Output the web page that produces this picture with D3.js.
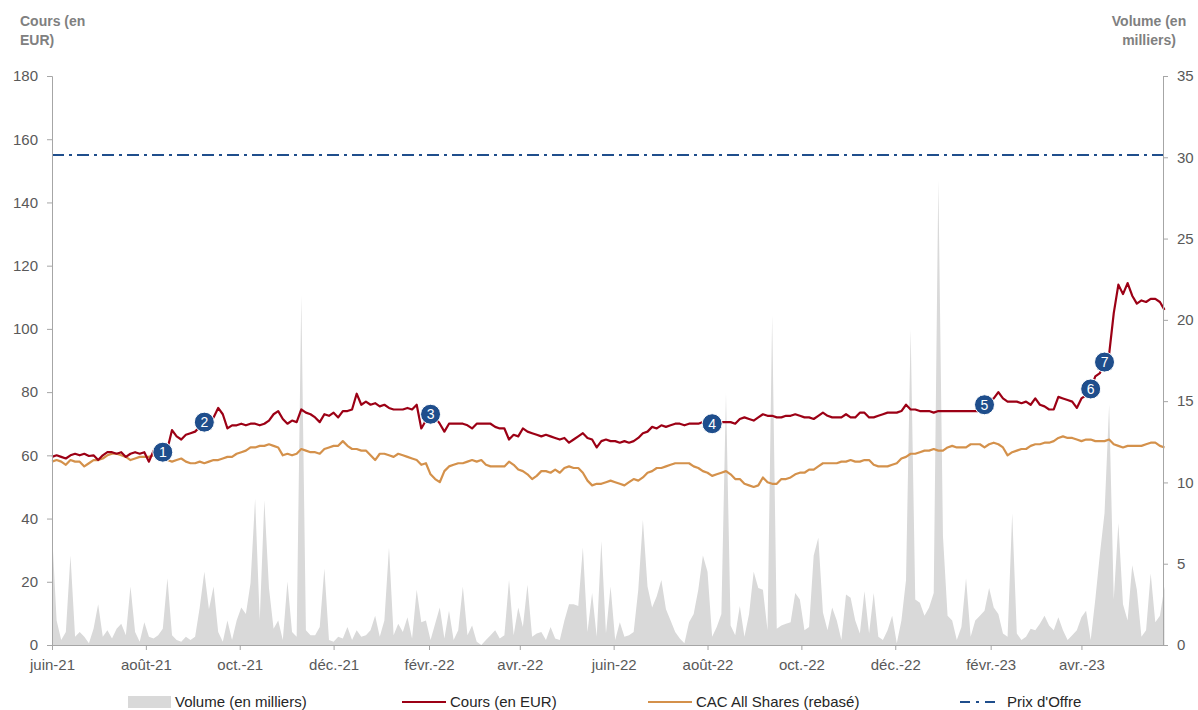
<!DOCTYPE html>
<html>
<head>
<meta charset="utf-8">
<script src="https://cdn.jsdelivr.net/npm/d3@7"></script>
<style>
    body { margin: 0; background: #fff; }
    svg { font-family: "Liberation Sans", Arial, sans-serif; }
</style>
</head>
<body>
<div id="chart"></div>
<script>
// one point every 3 calendar days from 1 June 2021
const startDate = new Date(2021, 5, 1);
const endDate = new Date(2023, 4, 24);
const stepDays = 3;

const cours = [
    59.5, 60, 59.5, 59, 60, 60.5, 60, 60.5, 59.8, 60,
    58.5, 60, 61, 61, 60.5, 61, 59.5, 60.5, 61, 60.5,
    61, 58, 61.5, 61, 61, 62, 68, 66, 65, 66.5,
    67, 67.5, 69, 70.5, 70.5, 72, 75, 73, 68.5, 69.5,
    69.5, 70, 69.5, 70, 70, 69.5, 70, 71, 73, 74,
    71.5, 70, 71, 70.5, 74.5, 73.5, 73, 72, 70.5, 73,
    72.5, 73.5, 72, 74, 74, 74.5, 79.5, 76, 77, 76,
    76.5, 75.5, 76, 75, 74.5, 74.5, 74.5, 75, 74.5, 76,
    68.5, 71, 73, 72, 70, 67.5, 70, 70, 70, 70,
    69.5, 68.5, 70, 70, 70, 70, 69, 68.5, 68.5, 65,
    66.5, 66, 68.5, 67.5, 67, 66.5, 66, 66.5, 66, 65.5,
    65, 65.5, 64, 65, 66, 67, 65.5, 65, 62.5, 64.5,
    65, 64.5, 64.5, 64, 64.5, 64, 64.5, 65.5, 67, 67.5,
    69, 68.5, 69.5, 69, 69.5, 70, 70, 69.5, 70, 70,
    70, 70.5, 70, 70, 70.5, 70.5, 70.5, 70.5, 70, 71.5,
    72, 71.5, 71, 72, 73, 72.5, 72.5, 72, 72, 72.5,
    72.5, 73, 72.5, 72, 72, 71.5, 72.5, 73.5, 72.5, 72,
    72, 72, 73, 72, 72, 73.5, 73.5, 72, 72, 72.5,
    73, 73.5, 73.5, 73.5, 74, 76, 74.5, 74.5, 74, 74,
    74, 73.5, 74, 74, 74, 74, 74, 74, 74, 74,
    74, 74, 76, 77.5, 78, 80, 78, 77, 77, 77,
    76.5, 77, 76, 78, 76, 75.5, 74.5, 74.5, 78.5, 78,
    77.5, 77, 75, 78, 79, 81, 85, 86, 89.5, 92,
    105, 114, 111, 114.5, 110.5, 108, 109, 108.5, 109.5, 109.5,
    108.5, 106
];

const cac = [
    58, 58.5, 58, 57, 58.5, 58, 58, 56.5, 57.5, 58.5,
    58.5, 59, 60, 60.5, 60.5, 60, 59.5, 58.5, 59, 59.5,
    59.5, 59.5, 60, 59.5, 59, 58.5, 58, 58.5, 59, 58,
    57.5, 57.5, 58, 57.5, 58, 58.5, 58.5, 59, 59.5, 59.5,
    60.5, 61, 61.5, 62.5, 62.5, 63, 63, 63.5, 63, 62.5,
    60, 60.5, 60, 60.5, 62, 61.5, 61, 61, 60.5, 62,
    62.5, 63, 63, 64.5, 63, 62, 62, 61.5, 61.5, 60,
    58.5, 60.5, 60.5, 60, 59.5, 60.5, 60, 59.5, 59, 58.5,
    57, 57.5, 54, 52.5, 51.5, 55, 56.5, 57, 57.5, 57.5,
    58, 58.5, 58, 58.5, 57, 56.5, 56.5, 56.5, 56.5, 58,
    57, 55.5, 55, 54, 52.5, 53.5, 55, 55, 54.5, 55.5,
    54.5, 56, 56.5, 56, 56, 54.5, 52, 50.5, 51, 51,
    51.5, 52, 51.5, 51, 50.5, 51.5, 52.5, 52, 53, 54.5,
    55, 56, 56, 56.5, 57, 57.5, 57.5, 57.5, 57.5, 56.5,
    56, 55, 54.5, 53.5, 54, 54.5, 55, 54, 52.5, 52.5,
    51, 50.5, 50, 50.5, 53, 51.5, 51, 51, 52.5, 52.5,
    53, 54, 54.5, 54.5, 55.5, 55.5, 56.5, 57.5, 57.5, 57.5,
    57.5, 58, 58, 58.5, 58, 58, 58.5, 58.5, 57, 56.5,
    56.5, 56.5, 57, 57.5, 59, 59.5, 60.5, 60.5, 61, 61.5,
    61.5, 62, 61.5, 61.5, 62.5, 63, 62.5, 62.5, 62.5, 63.5,
    63.5, 63.5, 62.5, 63.5, 64, 63.5, 62.5, 60, 61, 61.5,
    62, 62, 63, 63.5, 63.5, 64, 64, 64.5, 65.5, 66,
    65.5, 65.5, 65, 64.5, 65, 65, 64.5, 64.5, 64.5, 65,
    63.5, 63, 62.5, 63, 63, 63, 63, 63.5, 64, 64,
    63, 62.5
];

// volume en milliers
const volume = [
    7, 1.5, 0.3, 0.8, 5.5, 0.5, 0.8, 0.5, 0.1, 1,
    2.5, 0.5, 0.9, 0.4, 1, 1.3, 0.6, 3.6, 0.8, 0.2,
    1.4, 0.5, 0.4, 0.6, 1, 4.1, 0.6, 0.3, 0.2, 0.5,
    0.3, 0.5, 2.3, 4.5, 2.2, 3.6, 0.8, 0.2, 1.5, 0.3,
    1.5, 2.3, 1.9, 3.8, 9, 1.5, 8.9, 3.5, 1, 1.5,
    0.3, 3.9, 0.8, 0.5, 21.5, 0.9, 0.6, 0.6, 1.1, 4.7,
    0.3, 0.2, 0.5, 0.4, 1.1, 0.3, 0.9, 0.5, 0.6, 0.9,
    1.8, 0.5, 1.5, 6, 0.6, 1.3, 0.8, 1.7, 0.4, 3.4,
    1.4, 1.5, 0.3, 1.3, 2.3, 0.4, 2.1, 0.3, 0.9, 3.6,
    0.6, 1.2, 0.2, 0, 0.3, 0.6, 0.9, 0.4, 0.6, 4,
    0.6, 2.3, 1.1, 3.7, 0.5, 0.7, 0.8, 0.3, 1.1, 0.4,
    0.3, 1.5, 2.5, 2.5, 2.4, 6, 0.8, 3.2, 0.5, 6.4,
    0.7, 3.6, 0.3, 1.4, 0.5, 0.6, 0.8, 3.4, 7.7, 3.6,
    2.3, 3, 4, 2.2, 1.5, 0.8, 0.4, 0.1, 1.4, 1.9,
    3.4, 5.5, 4.5, 0.5, 1.1, 1.9, 15.5, 1.2, 0.6, 2.4,
    0.5, 1.9, 4.5, 3.5, 3.4, 0.9, 20.3, 1, 1.2, 1.3,
    1.4, 3.2, 2.8, 0.9, 1.1, 5.5, 6.6, 2, 0.9, 2.3,
    1.5, 0.3, 3.1, 2.9, 1.5, 0.7, 3.3, 0.7, 3.2, 0.5,
    0.3, 0.9, 1.8, 0.1, 1.5, 4, 19.4, 2.8, 2.6, 1.8,
    2.3, 3.2, 28.6, 6.7, 1.8, 1.5, 0.3, 1.1, 4.1, 0.5,
    1.5, 1.8, 2.1, 3.5, 2.3, 1.9, 0.7, 0.5, 8.1, 0.7,
    0.3, 0.5, 1, 0.9, 1.3, 1.8, 1.2, 0.9, 1.7, 0.9,
    0.3, 0.6, 0.9, 1.7, 2.1, 0.3, 2.8, 5.6, 8.1, 14.8,
    2.8, 7.5, 2.5, 1.5, 4.9, 3.4, 0.5, 0.9, 4.4, 1.4,
    1.8, 3.6
];

const prixOffre = 155;

// numbered events placed on the Cours line (index into the series)
const eventIndex = [24, 33, 82, 143, 202, 225, 228];
const eventLabels = ["1", "2", "3", "4", "5", "6", "7"];

const monthTicks = [
    new Date(2021, 5, 1), new Date(2021, 7, 1), new Date(2021, 9, 1), new Date(2021, 11, 1),
    new Date(2022, 1, 1), new Date(2022, 3, 1), new Date(2022, 5, 1), new Date(2022, 7, 1),
    new Date(2022, 9, 1), new Date(2022, 11, 1), new Date(2023, 1, 1), new Date(2023, 3, 1)
];
const monthLabels = ["juin-21", "août-21", "oct.-21", "déc.-21", "févr.-22", "avr.-22",
    "juin-22", "août-22", "oct.-22", "déc.-22", "févr.-23", "avr.-23"];

const leftTicks = [0, 20, 40, 60, 80, 100, 120, 140, 160, 180];
const rightTicks = [0, 5, 10, 15, 20, 25, 30, 35];

const legendLabels = ["Volume (en milliers)", "Cours (en EUR)", "CAC All Shares (rebasé)", "Prix d'Offre"];

const colors = {
    cours: "#9C0015",
    cac: "#D4914B",
    volume: "#D9D9D9",
    offre: "#1F4E8C",
    axis: "#A6A6A6",
    tickText: "#595959",
    title: "#808080"
};

const width = 1198, height = 710;
const plot = { left: 52, right: 1163, top: 76, bottom: 645 };

const dates = cours.map((d, i) => d3.timeDay.offset(startDate, i * stepDays));

const x = d3.scaleTime().domain([startDate, endDate]).range([plot.left, plot.right]);
const y = d3.scaleLinear().domain([0, 180]).range([plot.bottom, plot.top]);
const yVol = d3.scaleLinear().domain([0, 35]).range([plot.bottom, plot.top]);

const svg = d3.select("#chart")
    .append("svg")
    .attr("width", width)
    .attr("height", height);

// Volume area (right axis)
const volArea = d3.area()
    .x((d, i) => x(dates[i]))
    .y0(plot.bottom)
    .y1(d => yVol(d));

svg.append("path")
    .datum(volume)
    .attr("d", volArea)
    .attr("fill", colors.volume);

// Prix d'offre
svg.append("line")
    .attr("x1", plot.left)
    .attr("x2", plot.right)
    .attr("y1", y(prixOffre))
    .attr("y2", y(prixOffre))
    .attr("stroke", colors.offre)
    .attr("stroke-width", 2)
    .attr("stroke-dasharray", "12,5,3,5");

const line = d3.line()
    .x((d, i) => x(dates[i]))
    .y(d => y(d));

svg.append("path")
    .datum(cac)
    .attr("d", line)
    .attr("fill", "none")
    .attr("stroke", colors.cac)
    .attr("stroke-width", 2.2)
    .attr("stroke-linejoin", "round");

svg.append("path")
    .datum(cours)
    .attr("d", line)
    .attr("fill", "none")
    .attr("stroke", colors.cours)
    .attr("stroke-width", 2.2)
    .attr("stroke-linejoin", "round");

// Axes
const xAxis = svg.append("g")
    .attr("transform", `translate(0, ${plot.bottom})`)
    .call(d3.axisBottom(x)
        .tickValues(monthTicks)
        .tickFormat((d, i) => monthLabels[i])
        .tickSize(5)
        .tickSizeOuter(0));

const leftAxis = svg.append("g")
    .attr("transform", `translate(${plot.left}, 0)`)
    .call(d3.axisLeft(y).tickValues(leftTicks).tickSize(5).tickPadding(9));

const rightAxis = svg.append("g")
    .attr("transform", `translate(${plot.right}, 0)`)
    .call(d3.axisRight(yVol).tickValues(rightTicks).tickSize(5).tickPadding(9));

[xAxis, leftAxis, rightAxis].forEach(g => {
    g.select(".domain").attr("stroke", colors.axis);
    g.selectAll(".tick line").attr("stroke", colors.axis);
    g.selectAll(".tick text")
        .attr("fill", colors.tickText)
        .attr("font-size", "15px")
        .attr("font-family", "Liberation Sans, Arial, sans-serif");
});
xAxis.selectAll(".tick text").attr("dy", "1.1em");

// Axis titles
const leftTitle = svg.append("text")
    .attr("x", 20)
    .attr("y", 26)
    .attr("fill", colors.title)
    .attr("font-size", "14px")
    .attr("font-weight", "bold");
leftTitle.append("tspan").attr("x", 20).text("Cours (en");
leftTitle.append("tspan").attr("x", 20).attr("dy", 19).text("EUR)");

const rightTitle = svg.append("text")
    .attr("x", 1149)
    .attr("y", 26)
    .attr("text-anchor", "middle")
    .attr("fill", colors.title)
    .attr("font-size", "14px")
    .attr("font-weight", "bold");
rightTitle.append("tspan").attr("x", 1149).text("Volume (en");
rightTitle.append("tspan").attr("x", 1149).attr("dy", 19).text("milliers)");

// Event markers
const markers = svg.append("g")
    .selectAll("g")
    .data(eventIndex)
    .enter()
    .append("g")
    .attr("transform", d => `translate(${x(dates[d])}, ${y(cours[d])})`);

markers.append("circle")
    .attr("r", 10)
    .attr("fill", colors.offre)
    .attr("stroke", "#fff")
    .attr("stroke-width", 1);

markers.append("text")
    .attr("text-anchor", "middle")
    .attr("dy", "0.36em")
    .attr("fill", "#fff")
    .attr("font-size", "14px")
    .text((d, i) => eventLabels[i]);

// Legend
const legendY = 702;
const legend = svg.append("g");

legend.append("rect")
    .attr("x", 128).attr("y", legendY - 6)
    .attr("width", 43).attr("height", 12)
    .attr("fill", colors.volume);

legend.append("line")
    .attr("x1", 402).attr("x2", 446)
    .attr("y1", legendY).attr("y2", legendY)
    .attr("stroke", colors.cours).attr("stroke-width", 2);

legend.append("line")
    .attr("x1", 648).attr("x2", 692)
    .attr("y1", legendY).attr("y2", legendY)
    .attr("stroke", colors.cac).attr("stroke-width", 2);

legend.append("line")
    .attr("x1", 960).attr("x2", 999)
    .attr("y1", legendY).attr("y2", legendY)
    .attr("stroke", colors.offre).attr("stroke-width", 2)
    .attr("stroke-dasharray", "10,6,3,6");

const legendTextX = [175, 450, 696, 1007];
legend.selectAll(".legend-label")
    .data(legendLabels)
    .enter()
    .append("text")
    .attr("class", "legend-label")
    .attr("x", (d, i) => legendTextX[i])
    .attr("y", legendY)
    .attr("dy", "0.35em")
    .attr("fill", "#262626")
    .attr("font-size", "15px")
    .text(d => d);
</script>
</body>
</html>
